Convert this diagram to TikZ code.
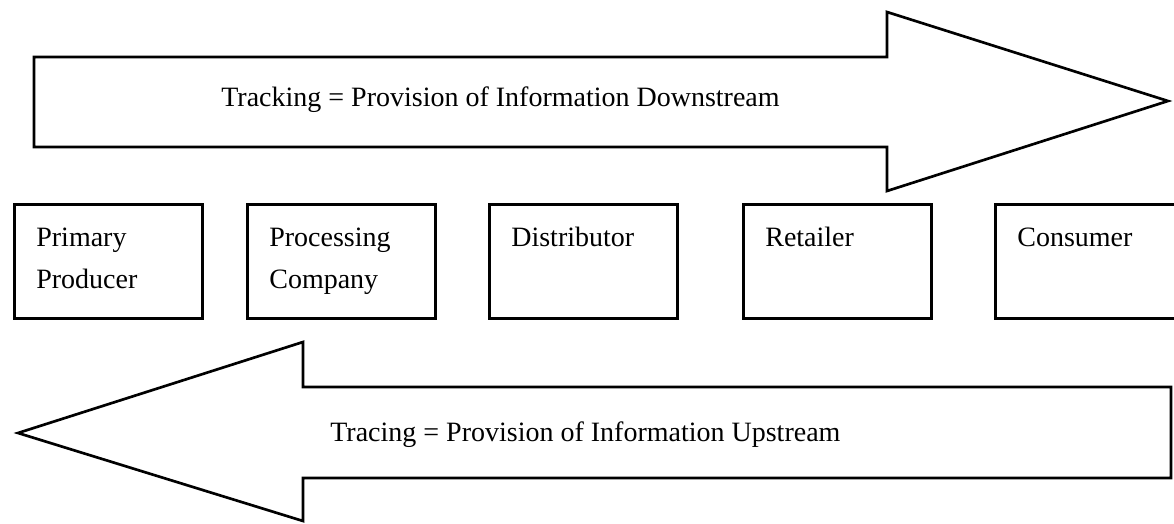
\documentclass[tikz,border=0pt]{standalone}
\usepackage{fontspec}
\setmainfont{Liberation Serif}
\usepackage{tikz}
\usetikzlibrary{calc}

\begin{document}
\begin{tikzpicture}[x=0.75pt, y=-0.75pt,
        line width=2pt, line join=miter,
        label/.style={font=\fontsize{21}{31.5}\selectfont, inner sep=0pt, anchor=base west},
        stage/.style={draw, line width=2pt, anchor=north west, align=left,
            font=\fontsize{21}{31.5}\selectfont,
            text width=108pt, inner xsep=16.5pt, inner ysep=0pt,
            text height=31.5pt, text depth=54pt}]
        \useasboundingbox (0, 0) rectangle (1174, 524);

        % downstream arrow
        \coordinate (T1) at (34, 57);
        \coordinate (T2) at (887, 57);
        \coordinate (T3) at (887, 12);
        \coordinate (T4) at (1168, 101);
        \coordinate (T5) at (887, 191);
        \coordinate (T6) at (887, 147);
        \coordinate (T7) at (34, 147);
        \draw (T1) -- (T2) -- (T3) -- (T4) -- (T5) -- (T6) -- (T7) -- cycle;
        \node[label] (track) at (220, 107) {Tracking = Provision of Information Downstream};

        % chain stages
        \node[stage] (producer) at (13, 203) {Primary\\Producer};
        \node[stage] (processor) at (246, 203) {Processing\\Company};
        \node[stage] (distributor) at (488, 203) {Distributor};
        \node[stage] (retailer) at (742, 203) {Retailer};
        \node[stage, text width=102pt] (consumer) at (994, 203) {Consumer};

        % upstream arrow
        \coordinate (B1) at (1171, 387);
        \coordinate (B2) at (303, 387);
        \coordinate (B3) at (303, 342);
        \coordinate (B4) at (18, 433);
        \coordinate (B5) at (303, 521);
        \coordinate (B6) at (303, 478);
        \coordinate (B7) at (1171, 478);
        \draw (B1) -- (B2) -- (B3) -- (B4) -- (B5) -- (B6) -- (B7) -- cycle;
        \node[label] (trace) at (329, 441) {Tracing = Provision of Information Upstream};
    \end{tikzpicture}
\end{document}
